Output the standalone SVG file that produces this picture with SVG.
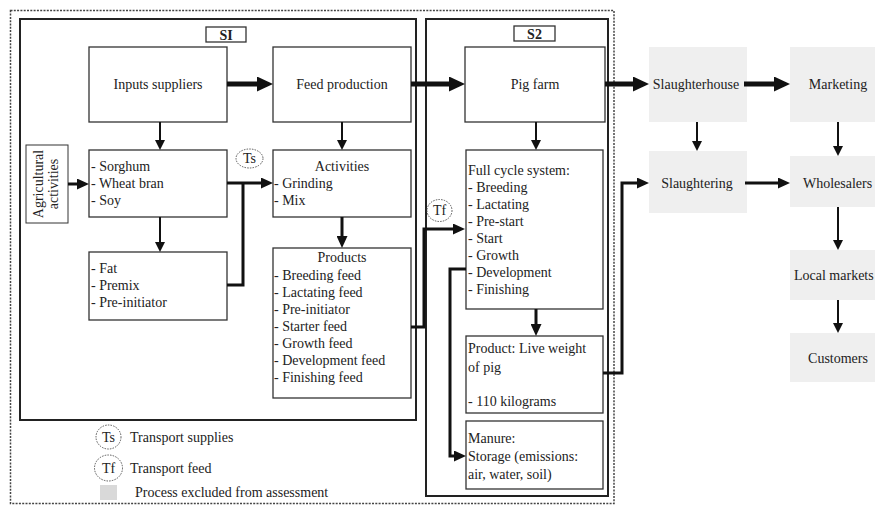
<svg xmlns="http://www.w3.org/2000/svg" width="875" height="506" viewBox="0 0 875 506">
<style>
text{font-family:"Liberation Serif","Times New Roman",serif;font-size:14px;fill:#222}
.c{text-anchor:middle}
.b{font-weight:bold}
.box{fill:#fff;stroke:#333;stroke-width:1.3}
.sys{fill:none;stroke:#222;stroke-width:2}
.ex{fill:#efefef;stroke:none}
.dot{fill:none;stroke:#555;stroke-width:1;stroke-dasharray:1.5,1.2}
.thick{fill:none;stroke:#111;stroke-width:5}
.med{fill:none;stroke:#111;stroke-width:3}
.thin{fill:none;stroke:#111;stroke-width:2}
</style>
<defs>
<marker id="big" markerUnits="userSpaceOnUse" markerWidth="16" markerHeight="15" refX="4" refY="7.5" orient="auto"><path d="M0,0 L16,7.5 L0,15 z" fill="#111"/></marker>
<marker id="mid" markerUnits="userSpaceOnUse" markerWidth="12" markerHeight="11" refX="4" refY="5.5" orient="auto"><path d="M0,0 L12,5.5 L0,11 z" fill="#111"/></marker>
<marker id="sm" markerUnits="userSpaceOnUse" markerWidth="10" markerHeight="10" refX="3" refY="5" orient="auto"><path d="M0,0 L10,5 L0,10 z" fill="#111"/></marker>
</defs>
<rect width="875" height="506" fill="#fff"/>

<g id="boundary">
<rect x="10.5" y="10.5" width="603.5" height="493" fill="none" stroke="#444" stroke-width="1.5" stroke-dasharray="2,1.3"/>
</g>
<g id="S1">
<rect class="sys" x="20" y="19" width="396" height="401"/>
<rect class="box" x="206" y="27" width="40" height="15"/>
<text class="c b" x="226" y="39.5">SI</text>
</g>
<g id="S2">
<rect class="sys" x="426" y="19" width="182" height="477"/>
<rect class="box" x="514" y="26" width="41" height="15"/>
<text class="c b" x="534.5" y="38.5">S2</text>
</g>

<g id="inputs-suppliers">
<rect class="box" x="89" y="47" width="138" height="75"/>
<text class="c" x="158" y="88.5">Inputs suppliers</text>
</g>
<g id="feed-production">
<rect class="box" x="273" y="47" width="138" height="75"/>
<text class="c" x="342" y="88.5">Feed production</text>
</g>
<g id="pig-farm">
<rect class="box" x="465" y="47" width="140" height="75"/>
<text class="c" x="535" y="88.5">Pig farm</text>
</g>
<g id="agricultural-activities">
<rect x="26" y="145" width="42" height="78" fill="#fff" stroke="#333" stroke-width="1"/>
<text class="c" transform="translate(47,184) rotate(-90)"><tspan x="0" y="-4">Agricultural</tspan><tspan x="0" y="11">activities</tspan></text>
</g>
<g id="grains">
<rect class="box" x="89" y="150" width="138" height="67"/>
<text x="91" y="170.5">- Sorghum</text>
<text x="91" y="187.5">- Wheat bran</text>
<text x="91" y="204.5">- Soy</text>
</g>
<g id="additives">
<rect class="box" x="89" y="252" width="138" height="68"/>
<text x="91" y="272.5">- Fat</text>
<text x="91" y="289.5">- Premix</text>
<text x="91" y="306.5">- Pre-initiator</text>
</g>
<g id="activities">
<rect class="box" x="273" y="150" width="138" height="67"/>
<text class="c" x="342" y="170.5">Activities</text>
<text x="274" y="187.5">- Grinding</text>
<text x="274" y="204.5">- Mix</text>
</g>
<g id="products">
<rect class="box" x="273" y="248" width="138" height="150"/>
<text class="c" x="342" y="262">Products</text>
<text x="274" y="279.5">- Breeding feed</text>
<text x="274" y="296.5">- Lactating feed</text>
<text x="274" y="313.5">- Pre-initiator</text>
<text x="274" y="330.5">- Starter feed</text>
<text x="274" y="347.5">- Growth feed</text>
<text x="274" y="365">- Development feed</text>
<text x="274" y="382">- Finishing feed</text>
</g>
<g id="full-cycle">
<rect class="box" x="466" y="150" width="137" height="159"/>
<text x="468" y="174.5">Full cycle system:</text>
<text x="468" y="191.5">- Breeding</text>
<text x="468" y="208.5">- Lactating</text>
<text x="468" y="225.5">- Pre-start</text>
<text x="468" y="242.5">- Start</text>
<text x="468" y="259.5">- Growth</text>
<text x="468" y="276.5">- Development</text>
<text x="468" y="293.5">- Finishing</text>
</g>
<g id="product-live-weight">
<rect class="box" x="466" y="336" width="137" height="77"/>
<text x="468" y="352.5">Product: Live weight</text>
<text x="468" y="371.5">of pig</text>
<text x="468" y="405.5">- 110 kilograms</text>
</g>
<g id="manure">
<rect class="box" x="466" y="421" width="137" height="68"/>
<text x="468" y="442.5">Manure:</text>
<text x="468" y="460.5">Storage (emissions:</text>
<text x="468" y="478.5">air, water, soil)</text>
</g>
<g id="ts">
<ellipse class="dot" cx="249.5" cy="158.5" rx="13.5" ry="9.5"/>
<text class="c" x="249.5" y="163">Ts</text>
</g>
<g id="tf">
<ellipse class="dot" cx="439.5" cy="210.5" rx="12.5" ry="11"/>
<text class="c" x="439.5" y="215">Tf</text>
</g>

<g id="slaughterhouse">
<rect class="ex" x="649" y="47" width="98" height="75"/>
<text class="c" x="696" y="88.5">Slaughterhouse</text>
</g>
<g id="marketing">
<rect class="ex" x="790" y="47" width="85" height="75"/>
<text class="c" x="838" y="88.5">Marketing</text>
</g>
<g id="slaughtering">
<rect class="ex" x="649" y="151" width="98" height="62"/>
<text class="c" x="697" y="187.5">Slaughtering</text>
</g>
<g id="wholesalers">
<rect class="ex" x="790" y="156" width="85" height="51"/>
<text x="803" y="187.5">Wholesalers</text>
</g>
<g id="local-markets">
<rect class="ex" x="790" y="250" width="85" height="50"/>
<text x="794" y="279.5">Local markets</text>
</g>
<g id="customers">
<rect class="ex" x="790" y="333" width="85" height="49"/>
<text class="c" x="838" y="362.5">Customers</text>
</g>

<g id="legend">
<ellipse class="dot" cx="108.5" cy="437" rx="12.5" ry="12"/>
<text class="c" x="108.5" y="441.5">Ts</text>
<text x="130" y="441.5">Transport supplies</text>
<ellipse class="dot" cx="108.5" cy="468" rx="14" ry="13"/>
<text class="c" x="108.5" y="472.5">Tf</text>
<text x="130" y="472.5">Transport feed</text>
<rect x="100" y="485" width="17" height="15" fill="#d9d9d9"/>
<text x="135" y="496.5">Process excluded from assessment</text>
</g>

<g id="connectors">
<path class="thick" d="M227,84 H261" marker-end="url(#big)"/>
<path class="thick" d="M411,84 H453" marker-end="url(#big)"/>
<path class="thick" d="M605,84 H637" marker-end="url(#big)"/>
<path class="thick" d="M744,84 H778" marker-end="url(#big)"/>
<path class="thin" d="M160,122 V143" marker-end="url(#sm)"/>
<path class="thin" d="M160,217 V245" marker-end="url(#sm)"/>
<path class="thin" d="M342,122 V143" marker-end="url(#sm)"/>
<path class="med" d="M342,217 V240" marker-end="url(#mid)"/>
<path class="thin" d="M536,122 V143" marker-end="url(#sm)"/>
<path class="med" d="M536,309 V328" marker-end="url(#mid)"/>
<path class="med" d="M68,184 H81" marker-end="url(#mid)"/>
<path class="med" d="M227,183 H265" marker-end="url(#mid)"/>
<path class="med" d="M227,285 H243 V183"/>
<path class="med" d="M411,327 H424 V229 H457" marker-end="url(#mid)"/>
<path class="med" d="M466,269 H450 V456 H458" marker-end="url(#mid)"/>
<path class="med" d="M603,373 H622 V183 H641" marker-end="url(#mid)"/>
<path class="thin" d="M697,122 V144" marker-end="url(#sm)"/>
<path class="med" d="M745,183 H782" marker-end="url(#mid)"/>
<path class="thin" d="M838,122 V149" marker-end="url(#sm)"/>
<path class="thin" d="M838,207 V243" marker-end="url(#sm)"/>
<path class="thin" d="M838,300 V326" marker-end="url(#sm)"/>
</g>
</svg>
